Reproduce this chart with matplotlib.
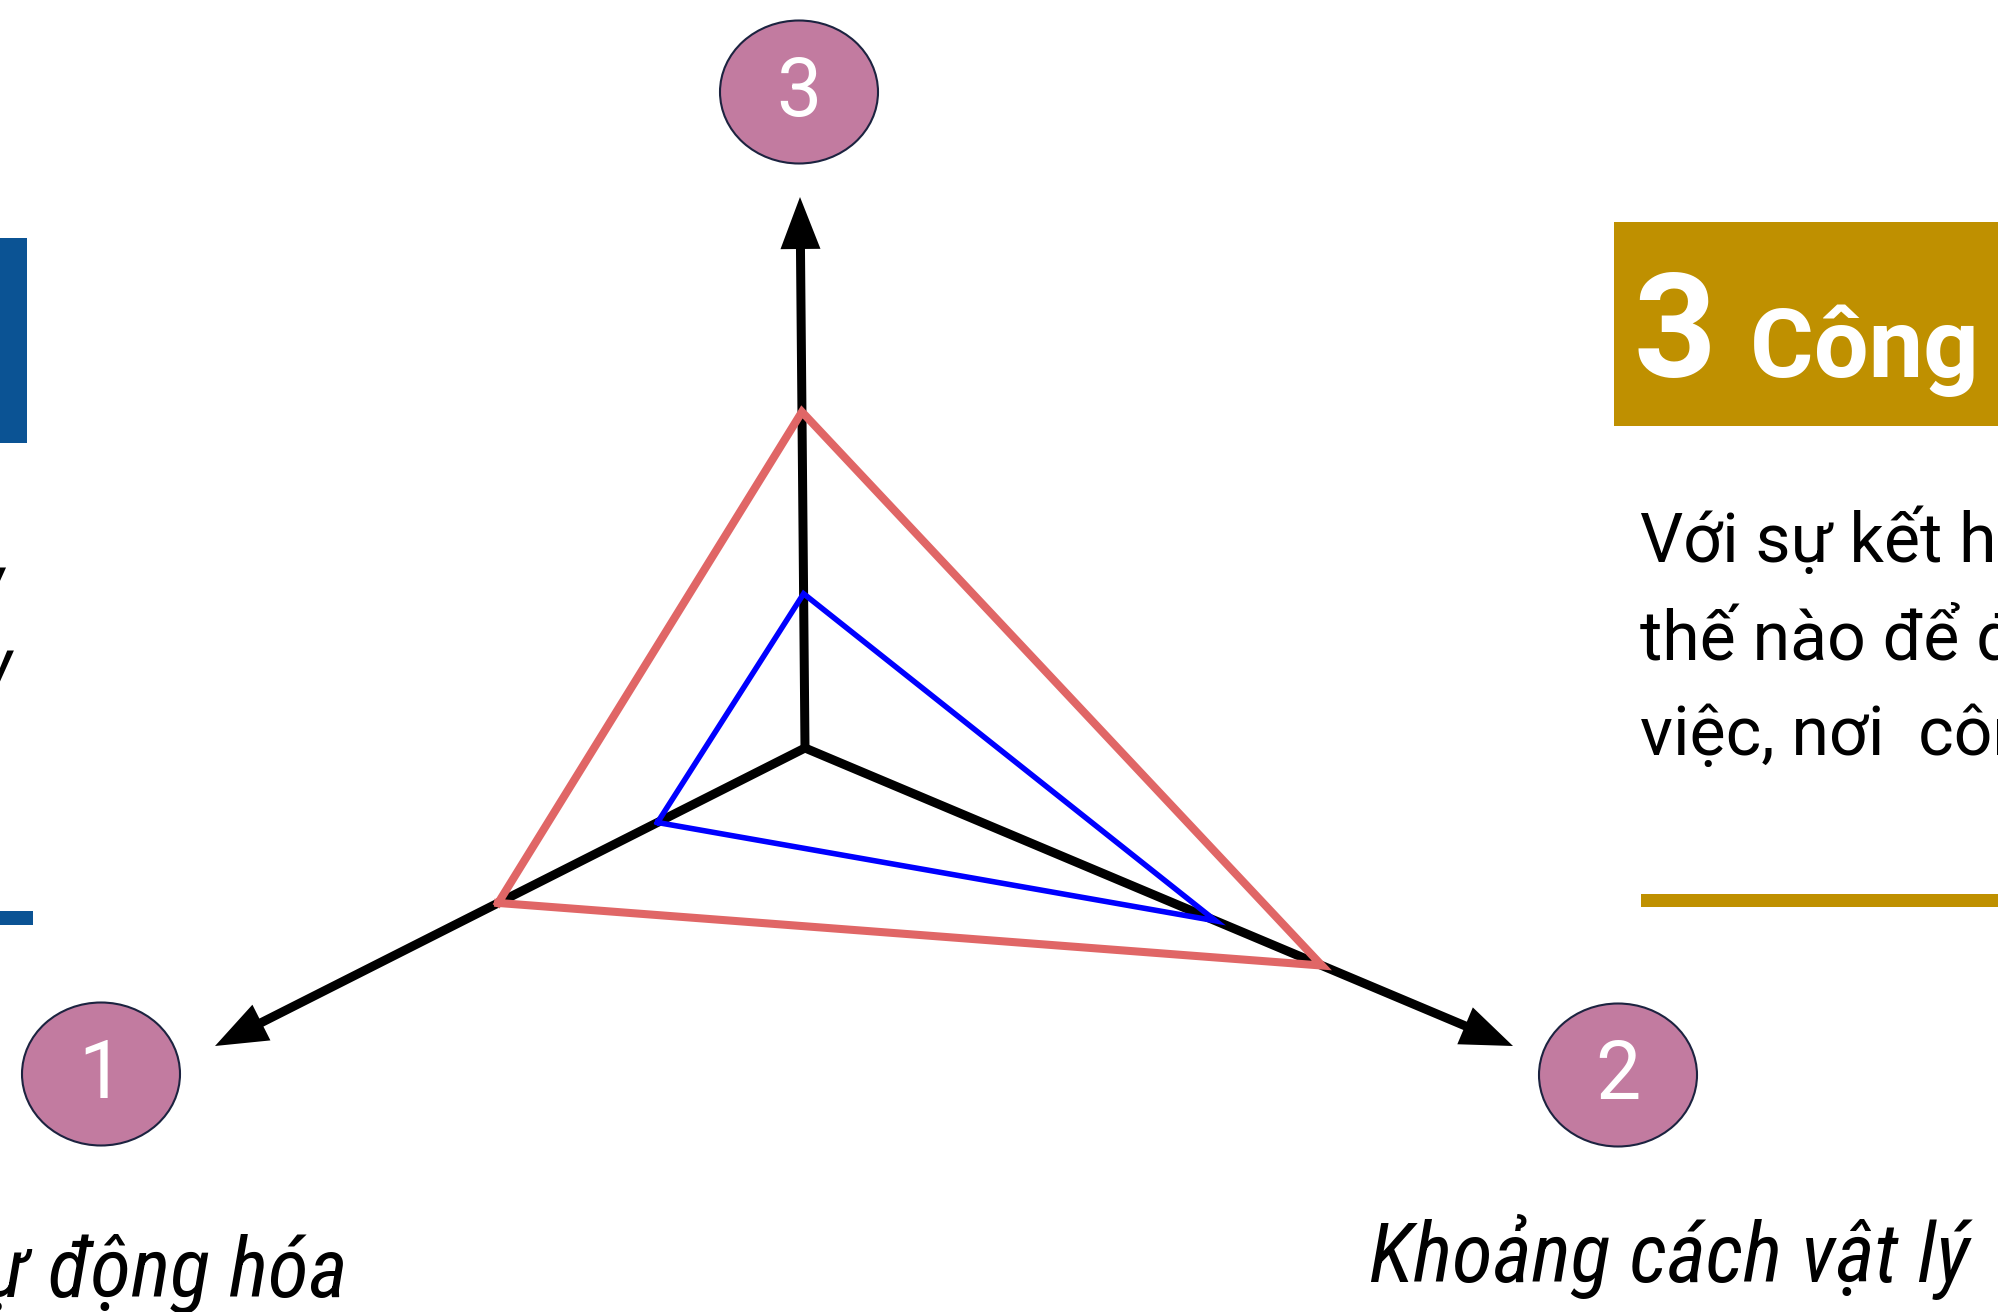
import numpy as np
import matplotlib.pyplot as plt
from matplotlib.patches import Ellipse, Rectangle

plt.rcParams['font.family'] = ['Roboto', 'DejaVu Sans']
cond = ['Roboto Condensed', 'Roboto', 'DejaVu Sans']

# values on each of the three axes (0-10 scale), order: axis 1, axis 2, axis 3
axis_labels = ['1', '2', '3']
red_values = [5.2, 7.3, 6.1]
blue_values = [2.5, 5.8, 2.8]
scale_max = 10.0

# text blocks
heading_num = '3'
heading_text = 'Công việc'
body_lines = ['Với sự kết hợp', 'thế nào để đảm', 'việc, nơi  công']
label_left = 'Tự động hóa'
label_right = 'Khoảng cách vật lý'

# geometry in pixel units (figure is drawn 1:1 in pixels)
W, H = 1998, 1312
origin = np.array([805.0, 748.0])
tips = np.array([[215.0, 1046.0], [1513.0, 1046.0], [800.0, 197.0]])
circle_centers = [(101, 1074), (1618, 1075), (799, 92)]

fig = plt.figure(figsize=(W / 100, H / 100), dpi=100)
ax = fig.add_axes([0, 0, 1, 1])
ax.set_xlim(0, W)
ax.set_ylim(H, 0)
ax.axis('off')

# axes with arrow heads
for t in tips:
    d = t - origin
    ax.arrow(origin[0], origin[1], d[0], d[1], width=9, head_width=40,
             head_length=52, length_includes_head=True, color='black',
             lw=0, zorder=2)


def vertices(vals):
    pts = [origin + (tips[i] - origin) * v / scale_max for i, v in enumerate(vals)]
    pts.append(pts[0])
    return np.array(pts)


red_pts = vertices(red_values)
blue_pts = vertices(blue_values)
ax.plot(red_pts[:, 0], red_pts[:, 1], color='#E06666', lw=5.8,
        solid_joinstyle='miter', zorder=3)
ax.plot(blue_pts[:, 0], blue_pts[:, 1], color='#0000FF', lw=4,
        solid_joinstyle='miter', zorder=3)

# numbered circles
for (cx, cy), lab in zip(circle_centers, axis_labels):
    ax.add_patch(Ellipse((cx, cy), 158, 143, facecolor='#C27BA0',
                         edgecolor='#1C2340', lw=1.5, zorder=4))
    ax.text(cx, cy + 2, lab, color='white', fontsize=58, fontweight='normal',
            ha='center', va='center', zorder=5)

# gold heading box on the right
gold = '#BF9000'
ax.add_patch(Rectangle((1614, 222), 400, 204, facecolor=gold, edgecolor='none'))
ax.text(1634, 377, heading_num, color='white', fontsize=104, fontweight='bold',
        ha='left', va='baseline')
ax.text(1750, 377, heading_text, color='white', fontsize=70, fontweight='bold',
        ha='left', va='baseline')

for i, line in enumerate(body_lines):
    ax.text(1640, 562 + i * 97, line, color='black', fontsize=49,
            ha='left', va='baseline')

ax.add_patch(Rectangle((1641, 894), 400, 13, facecolor=gold, edgecolor='none'))

# blue fragments on the left edge
blue = '#0B5394'
ax.add_patch(Rectangle((0, 238), 27, 205, facecolor=blue, edgecolor='none'))
ax.add_patch(Rectangle((0, 911), 33, 14, facecolor=blue, edgecolor='none'))
ax.text(5, 605, 'ly', fontsize=52, fontstyle='italic', family=cond,
        ha='right', va='baseline')
ax.text(13, 688, 'vy', fontsize=52, fontstyle='italic', family=cond,
        ha='right', va='baseline')

# italic axis labels
ax.text(347, 1297, label_left, fontsize=60, fontstyle='italic', family=cond,
        ha='right', va='baseline')
ax.text(1369, 1282, label_right, fontsize=60, fontstyle='italic', family=cond,
        ha='left', va='baseline')

fig.savefig('out.png', dpi=100)
